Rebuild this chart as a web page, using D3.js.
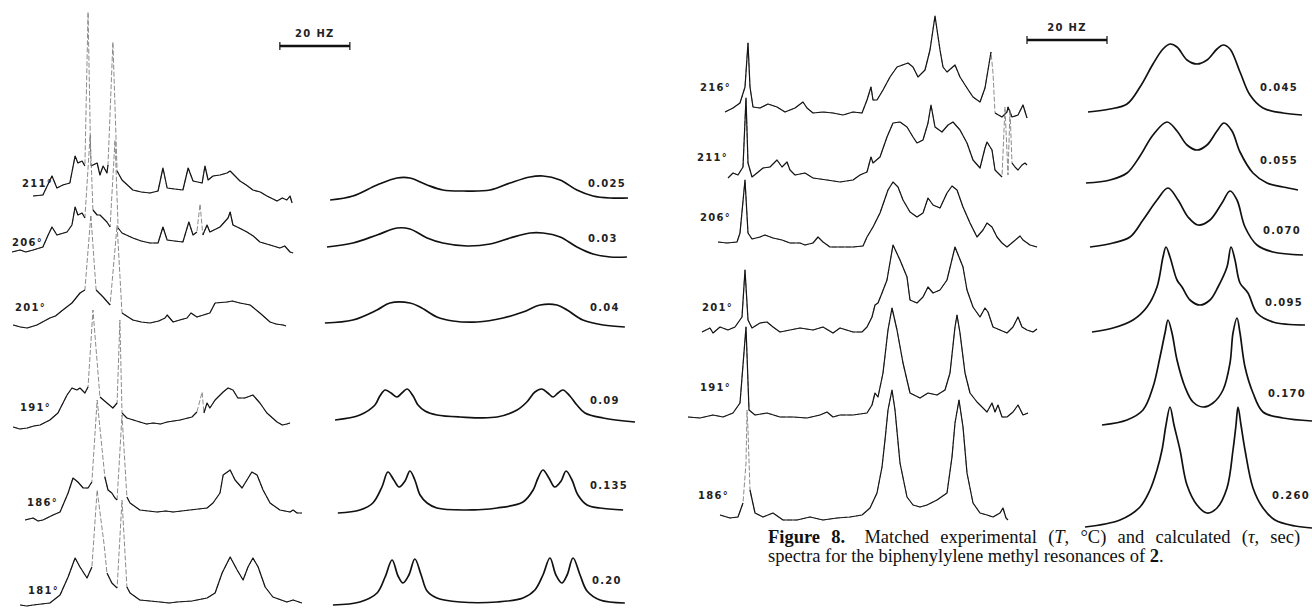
<!DOCTYPE html>
<html>
<head>
<meta charset="utf-8">
<script src="https://cdn.jsdelivr.net/npm/d3@7"></script>
<style>
  html, body { margin: 0; padding: 0; background: #fff; }
  svg { display: block; }
  .lbl { font-family: "DejaVu Sans", sans-serif; font-size: 10px; font-weight: bold; letter-spacing: 1.3px; fill: #222; }
  .cap { font-family: "Liberation Serif", serif; font-size: 18.5px; fill: #111; }
</style>
</head>
<body>
<svg id="fig" width="1312" height="608"></svg>
<script>
// labels
const leftTemps = ["211°", "206°", "201°", "191°", "186°", "181°"];
const leftTaus = ["0.025", "0.03", "0.04", "0.09", "0.135", "0.20"];
const rightTemps = ["216°", "211°", "206°", "201°", "191°", "186°"];
const rightTaus = ["0.045", "0.055", "0.070", "0.095", "0.170", "0.260"];
const barHz = 20;

// spectra: [Hz from sweep start, intensity, 1 = fast pen (faint)]
const expL211 = [[6.6,-1],[9.4,0],[12.0,19],[13.4,7],[15.1,10],[17.1,12],[18.6,39],[19.4,32],[20.6,34],[21.4,29],[22.3,183,1],[23.1,29],[24.9,32],[25.7,20],[26.6,29],[27.7,22],[28.0,30],[29.4,153,1],[30.6,24],[32.0,15],[35.1,5],[37.5,3],[40.0,2],[42.3,4],[43.7,27],[44.9,7],[47.0,6],[49.4,5],[50.9,27],[52.3,14],[54.9,12],[55.7,29],[56.6,15],[58.0,19],[60.0,20],[62.0,22],[62.9,24],[65.7,14],[67.5,10],[69.4,5],[71.5,3],[73.4,-1],[76.3,-6],[77.8,-3],[79.1,-5],[80.0,-1],[80.6,-8]];
const expL206 = [[0.6,-2],[2.9,0],[4.5,-2],[6.6,0],[9.4,3],[10.9,15],[12.0,23],[13.4,15],[16.3,18],[17.7,25],[18.6,43],[19.4,35],[20.6,37],[21.4,32],[22.9,115,1],[23.7,40],[24.9,35],[25.7,35],[27.7,28],[28.6,23],[30.0,110,1],[30.9,22],[32.0,17],[35.1,12],[37.5,9],[40.0,7],[42.3,7],[43.7,23],[44.9,10],[47.0,9],[49.4,8],[51.1,28],[52.3,15],[53.4,18],[54.3,46,1],[55.1,15],[56.3,25],[57.1,18],[60.0,23],[62.3,32],[62.9,38],[63.7,25],[65.5,22],[67.7,18],[69.5,14],[71.4,8],[74.3,5],[77.1,2],[78.5,4],[80.0,-2],[80.9,-3]];
const expL201 = [[0.9,0],[3.0,-2],[4.9,-3],[7.7,0],[11.4,7],[13.0,9],[15.1,15],[17.7,22],[20.0,32],[21.4,35],[23.1,110,1],[24.6,35],[26.6,28],[28.6,20],[30.6,100,1],[32.0,12],[35.1,5],[37.5,3],[40.0,2],[42.5,4],[44.3,7],[44.9,10],[46.6,3],[48.5,5],[50.6,7],[51.7,12],[53.4,8],[57.1,12],[58.6,22],[62.0,23],[63.5,24],[65.7,22],[68.6,20],[71.4,12],[74.3,3],[76.0,1],[78.0,0],[78.9,-1]];
const expL191 = [[0.9,0],[2.8,-2],[4.9,-1],[6.8,1],[8.6,2],[11.4,7],[13.7,14],[16.3,32],[17.7,39],[19.1,37],[20.0,39],[21.4,34],[22.3,40],[23.7,117,1],[25.7,30],[27.7,24],[29.4,19],[30.6,24],[31.4,107,1],[32.0,14],[33.4,9],[37.1,5],[39.0,3],[40.9,4],[43.0,3],[44.9,5],[48.6,7],[52.0,10],[53.4,15],[54.9,35,1],[55.4,14],[56.3,24],[57.1,19],[58.6,27],[60.9,35],[62.3,39],[63.7,37],[65.1,29],[67.1,29],[69.4,32],[71.4,24],[73.4,14],[76.3,5],[77.8,2],[79.1,3],[80.0,4]];
const expL186 = [[4.3,0],[6.6,2],[8.0,-1],[9.4,0],[12.3,5],[14.3,8],[16.6,27],[18.0,42],[19.4,38],[20.9,32],[22.3,32],[23.4,38],[24.9,120,1],[27.1,43],[28.0,30],[29.1,27],[30.0,22],[30.6,20],[32.0,105,1],[33.4,23],[34.3,17],[37.1,10],[39.5,9],[42.0,8],[44.5,9],[46.6,8],[49.0,9],[51.4,10],[56.3,12],[58.0,17],[60.0,27],[60.9,45],[62.9,50],[64.3,40],[66.3,32],[67.7,40],[69.1,48],[70.6,45],[72.3,30],[74.3,17],[77.1,10],[80.0,8],[80.9,10],[82.0,7],[83.4,7]];
const expL181 = [[2.9,0],[4.8,-1],[6.6,0],[11.4,2],[14.3,10],[16.6,28],[18.6,47],[20.0,38],[22.0,27],[23.4,38],[24.9,115,1],[26.9,60,1],[27.7,32],[29.1,22],[30.6,17],[32.0,105,1],[33.4,18],[34.3,12],[37.1,5],[40.0,4],[42.9,3],[45.5,2],[47.7,3],[52.0,4],[56.3,7],[58.6,12],[60.6,32],[62.9,48],[64.9,35],[66.6,25],[68.0,38],[69.4,47],[70.9,38],[72.9,18],[75.1,8],[79.1,3],[80.9,5],[83.4,2]];

const calcL025 = [[2.9,0],[9.4,4],[16.3,15],[22.0,22],[25.7,22],[30.6,15],[35.1,10],[40.9,9],[48.6,10],[54.3,17],[60.0,23],[63.7,24],[68.6,20],[73.4,10],[78.0,4],[82.9,2],[88.0,2]];
const calcL03 = [[2.0,0],[9.4,4],[16.3,12],[22.0,19],[25.7,18],[30.6,9],[35.1,4],[42.0,1],[48.6,3],[54.3,9],[60.0,14],[63.7,14],[68.6,10],[73.4,0],[78.0,-7],[82.9,-10],[87.7,-10]];
const calcL04 = [[1.4,0],[9.4,3],[16.3,13],[20.0,20],[25.7,20],[28.6,16],[33.4,6],[38.0,2],[44.9,1],[52.3,5],[58.0,11],[62.9,18],[67.7,18],[70.6,13],[75.1,3],[80.9,-2],[87.1,-4]];
const calcL09 = [[4.3,0],[11.4,5],[15.7,15],[17.1,24],[18.6,30],[20.3,27],[22.0,23],[23.4,27],[24.9,31],[26.6,24],[28.0,15],[30.0,9],[33.4,5],[40.0,3],[50.6,3],[56.3,10],[59.1,18],[61.4,28],[63.4,31],[65.1,27],[66.6,23],[68.0,27],[69.4,30],[71.4,24],[73.4,15],[75.7,7],[80.9,2],[90.0,-2]];
const calcL135 = [[5.1,0],[11.4,3],[15.1,10],[17.7,26],[19.4,41],[21.1,33],[22.6,26],[24.3,32],[25.7,42],[27.1,33],[28.6,18],[30.6,10],[33.4,5],[40.9,3],[50.6,5],[58.0,11],[60.9,23],[62.3,35],[63.7,43],[65.4,35],[67.1,26],[68.9,32],[70.3,42],[72.0,33],[73.7,18],[76.3,8],[80.0,5],[86.6,3]];
const calcL20 = [[3.7,0],[11.4,3],[16.3,12],[18.6,28],[20.6,45],[22.3,29],[23.7,22],[25.4,30],[27.1,46],[28.9,30],[30.6,14],[33.4,7],[40.0,3],[50.6,3],[58.0,7],[61.4,15],[63.7,30],[65.7,47],[67.4,30],[69.1,22],[70.6,30],[72.3,47],[74.3,30],[76.3,14],[80.0,5],[87.1,2]];

const expR216 = [[11.25,0],[13.25,4],[15,9],[16.25,25],[17,69],[17.5,25],[18.25,5],[20,4],[22,8],[24.25,5],[26.25,0],[28.75,4],[30.75,10],[31.75,4],[33.25,-1],[35.75,0],[38.25,-1],[40.75,-3],[43.25,0],[45.5,-1],[46.75,12],[47.75,25],[48.25,12],[49.25,12],[50.75,22],[52.5,35],[54.25,45],[57,49],[58.25,45],[59.5,35],[61.25,42],[62.5,62],[63.75,96],[65,62],[65.75,45],[66.75,40],[68.75,47],[70,35],[71.75,24],[73.25,15],[75,10],[76.25,24],[77.75,60],[78.25,39,1],[78.75,-1],[80.5,-5],[81.75,0],[82,5],[83,-5],[84.5,-3],[85.75,7],[86.75,-6]];
const expR211 = [[12,-3],[13.25,2],[14.5,0],[15.75,8],[16.5,77],[17,12],[18,-2],[19.25,2],[20.75,7],[22.5,8],[24.25,15],[25.5,8],[26.75,13],[27.5,5],[28.75,0],[31.25,2],[33.25,-3],[36.75,-5],[40,-7],[43.25,-5],[45,0],[46.75,3],[47.75,18],[48.25,12],[50,18],[51.75,38],[53.25,52],[55,53],[56.75,48],[58.25,38],[59.25,32],[60.75,35],[62,52],[62.75,70],[63.75,48],[65.5,43],[67,50],[68.25,53],[70,45],[71.75,32],[73.25,15],[75,7],[76.25,27],[76.75,33],[78,25],[78.75,5],[79.5,2],[80.5,-2],[81.25,68,1],[82,0,1],[82.5,65,1],[83,12],[83.75,8],[84.5,5],[85.5,10],[86.25,12],[86.75,10]];
const expR206 = [[9.5,0],[11.75,-1],[14.25,0],[15,9],[16.25,62],[17,9],[18,3],[20,5],[21.25,7],[23.25,4],[25.5,2],[27.5,-1],[30,-1],[31.25,-3],[33.25,-1],[34.5,5],[35.75,0],[37.5,-5],[40,-5],[43.25,-5],[45.75,-4],[46.75,5],[48.25,15],[50,29],[52,52],[53.25,60],[54.5,55],[55.75,42],[57.5,30],[59.25,25],[60.75,29],[62,44],[63.25,37],[65,34],[66.75,49],[68,56],[69.25,52],[70.75,35],[72.5,19],[74.25,5],[75.75,12],[76.75,19],[78,15],[79.25,5],[80.5,-1],[81.75,-5],[83.25,0],[85,6],[85.75,2],[87.5,-3],[89.25,-5]];
const expR201 = [[5.5,-2],[7.5,2],[8.25,-3],[10,3],[12,0],[13.75,3],[15.5,13],[16.25,60],[17,10],[18,2],[20,7],[21.75,8],[23.25,3],[25,-2],[27.5,0],[30,2],[33.25,0],[35.75,3],[38.25,-3],[40,2],[43.25,-2],[45.5,-2],[46.75,3],[48,13],[48.75,25],[49.5,27],[50.5,37],[51.75,50],[53.25,85],[55,70],[56.75,53],[57.5,30],[59.25,27],[60.75,33],[62,43],[63.25,37],[65,40],[66.75,50],[68.75,83],[70.75,63],[71.75,40],[73.25,23],[75,13],[76.25,22],[77,18],[78.25,3],[80,0],[81.75,-3],[83.25,3],[84.5,13],[85.5,3],[86.75,0],[88.25,-2],[89.25,1]];
const expR191 = [[2,-1],[5,-2],[8.25,1],[10.75,-1],[13.25,3],[15,13],[16.5,89],[17.25,6],[18.75,1],[21.75,3],[25,-1],[28.25,-1],[31.75,-2],[35,1],[36.75,4],[38.25,-1],[40,1],[43.25,1],[46.75,3],[48,11],[48.75,23],[49.5,19],[50.75,43],[52,86],[53,108],[54.25,86],[55.75,53],[57.5,23],[60,18],[62,23],[64.25,21],[66.25,26],[67.5,43],[68.75,89],[69.25,101],[70,83],[71.25,43],[72.5,23],[74.25,14],[76.75,4],[78,13],[78.75,4],[79.5,11],[80.5,-1],[81.75,-1],[83.25,4],[84.5,11],[85.75,1],[87,3]];
const expR186 = [[10,2],[12.5,-1],[14.5,0],[15.75,14],[16.5,54,1],[16.75,107,1],[17,87,1],[17.5,27],[18.75,4],[20.75,0],[23.25,4],[25.75,-3],[29.25,-3],[32.5,0],[35.75,-3],[39.25,-1],[42.5,0],[45.5,2],[47.5,9],[49.25,24],[50.5,50],[51.25,77],[52,107],[53,127],[53.75,107],[55,54],[56.75,20],[58.25,12],[60,10],[61.75,12],[64.25,17],[66.75,24],[68,60],[68.75,94],[69.75,117],[70.75,90],[71.75,44],[73.25,14],[75,4],[76.75,2],[78.25,0],[80,4],[80.75,9],[81.5,-1],[82,-3]];

const calcR045 = [[2,0],[7.5,3],[11.75,8],[15,25],[18.25,48],[20.75,63],[22.5,68],[24.25,65],[26.75,52],[29.25,48],[31.75,52],[34.25,63],[35.75,67],[37.5,63],[40,40],[42.5,17],[45.75,4],[50.75,-1],[55.5,-3]];
const calcR055 = [[1.5,0],[7.5,3],[11.75,10],[15,27],[18.25,48],[21.75,61],[24.25,52],[26.75,38],[29.25,33],[31.75,38],[34.25,52],[36,60],[38,52],[40,31],[43.25,10],[46.75,0],[50.75,-4],[54.5,-7]];
const calcR070 = [[2.5,0],[8.25,4],[12.5,10],[15.75,27],[19.25,47],[22,59],[24.5,47],[27,30],[29.5,22],[32.5,27],[35.5,44],[37.5,56],[39.25,47],[41.25,20],[44.25,2],[48.25,-5],[55.75,-8]];
const calcR095 = [[3,0],[8.25,4],[13.25,12],[16.75,25],[19.25,45],[20.75,75],[21.5,85],[22.5,75],[24.25,52],[25.5,45],[27.5,32],[30,27],[32.5,32],[34.5,45],[36.75,65],[37.75,85],[38.75,72],[40,49],[42,39],[44.25,19],[48.25,10],[56.25,7]];
const calcR170 = [[5.5,0],[11.75,5],[15.75,15],[18.25,38],[20,68],[21.25,92],[22,105],[23,92],[24.25,65],[26.25,38],[28.25,23],[30.75,18],[33.25,22],[35.75,35],[37.5,62],[38.25,92],[39.25,107],[40,92],[41.25,58],[43.25,32],[45.75,13],[50.75,7],[58,4]];
const calcR260 = [[1.25,0],[10,7],[15,20],[17.5,37],[19.25,57],[20.5,77],[21.5,102],[22.5,120],[23.5,102],[25,77],[26.75,42],[29.25,22],[31.75,14],[34.25,19],[36.75,39],[38.25,77],[39,102],[39.5,120],[40.25,102],[41.25,77],[43.25,39],[45.75,19],[48.75,7],[53.75,1],[58,-1]];

// layout
const leftExp = { x0: 10, pxHz: 3.5, base: [195, 250, 325, 427, 520, 605], series: [expL211, expL206, expL201, expL191, expL186, expL181] };
const leftCalc = { x0: 320, pxHz: 3.5, base: [200, 247, 323, 420, 513, 605], series: [calcL025, calcL03, calcL04, calcL09, calcL135, calcL20] };
const rightExp = { x0: 680, pxHz: 4, base: [112, 175, 242, 330, 416, 517], series: [expR216, expR211, expR206, expR201, expR191, expR186] };
const rightCalc = { x0: 1080, pxHz: 4, base: [112, 183, 247, 332, 425, 527], series: [calcR045, calcR055, calcR070, calcR095, calcR170, calcR260] };

const leftTempPos = [[22, 187], [12, 246], [15, 311], [20, 411], [27, 506], [28, 594]];
const leftTauPos = [[588, 187], [588, 242], [590, 311], [590, 404], [590, 489], [592, 584]];
const rightTempPos = [[700, 91], [697, 161], [700, 221], [702, 311], [700, 391], [698, 499]];
const rightTauPos = [[1260, 91], [1260, 164], [1263, 234], [1265, 306], [1268, 397], [1272, 499]];

const svg = d3.select("#fig");

function xScale(p) {
  return d3.scaleLinear().domain([0, 100]).range([p.x0, p.x0 + 100 * p.pxHz]);
}
function yScale(base) {
  return d3.scaleLinear().domain([0, 100]).range([base, base - 100]);
}

function drawExp(p) {
  const x = xScale(p);
  p.series.forEach((pts, i) => {
    const y = yScale(p.base[i]);
    const all = d3.line().x((d) => x(d[0])).y((d) => y(d[1]));
    const slow = d3.line().defined((d) => !d[2]).x((d) => x(d[0])).y((d) => y(d[1]));
    svg.append("path").datum(pts).attr("d", all).attr("fill", "none").attr("stroke", "#6f6f6f").attr("stroke-width", 0.8).attr("stroke-dasharray", "5 2");
    svg.append("path").datum(pts).attr("d", slow).attr("fill", "none").attr("stroke", "#151515").attr("stroke-width", 1.2).attr("stroke-linejoin", "round");
  });
}

function drawCalc(p) {
  const x = xScale(p);
  p.series.forEach((pts, i) => {
    const y = yScale(p.base[i]);
    const line = d3.line().x((d) => x(d[0])).y((d) => y(d[1])).curve(d3.curveCatmullRom.alpha(0.5));
    svg.append("path").datum(pts).attr("d", line).attr("fill", "none").attr("stroke", "#111").attr("stroke-width", 1.7);
  });
}

function drawLabels(texts, pos) {
  svg.append("g").selectAll("text").data(texts).enter().append("text")
    .attr("class", "lbl")
    .attr("x", (_, i) => pos[i][0])
    .attr("y", (_, i) => pos[i][1])
    .text((d) => d);
}

function drawBar(p, startHz, yBar) {
  const x = xScale(p);
  const x1 = x(startHz), x2 = x(startHz + barHz);
  const g = svg.append("g");
  g.append("line").attr("x1", x1).attr("x2", x2).attr("y1", yBar).attr("y2", yBar).attr("stroke", "#111").attr("stroke-width", 2.4);
  [x1, x2].forEach((xx) => g.append("line").attr("x1", xx).attr("x2", xx).attr("y1", yBar - 4).attr("y2", yBar + 4).attr("stroke", "#111").attr("stroke-width", 1.2));
  g.append("text").attr("class", "lbl").attr("x", (x1 + x2) / 2).attr("y", yBar - 9).attr("text-anchor", "middle").text(barHz + " HZ");
}

drawExp(leftExp);
drawCalc(leftCalc);
drawExp(rightExp);
drawCalc(rightCalc);
drawLabels(leftTemps, leftTempPos);
drawLabels(leftTaus, leftTauPos);
drawLabels(rightTemps, rightTempPos);
drawLabels(rightTaus, rightTauPos);
drawBar(leftExp, 77.1, 46);
drawBar(rightExp, 86.75, 40);

// caption
const cap = svg.append("g").attr("class", "cap");
const l1 = cap.append("text").attr("x", 768).attr("y", 543).attr("word-spacing", "6.6px");
l1.append("tspan").attr("font-weight", "bold").text("Figure 8.");
l1.append("tspan").attr("dx", 8).text(" Matched experimental (");
l1.append("tspan").attr("font-style", "italic").text("T");
l1.append("tspan").text(", °C) and calculated (");
l1.append("tspan").attr("font-style", "italic").text("τ");
l1.append("tspan").text(", sec)");
const l2 = cap.append("text").attr("x", 768).attr("y", 562);
l2.append("tspan").text("spectra for the biphenylylene methyl resonances of ");
l2.append("tspan").attr("font-weight", "bold").text("2");
l2.append("tspan").text(".");
</script>
</body>
</html>
